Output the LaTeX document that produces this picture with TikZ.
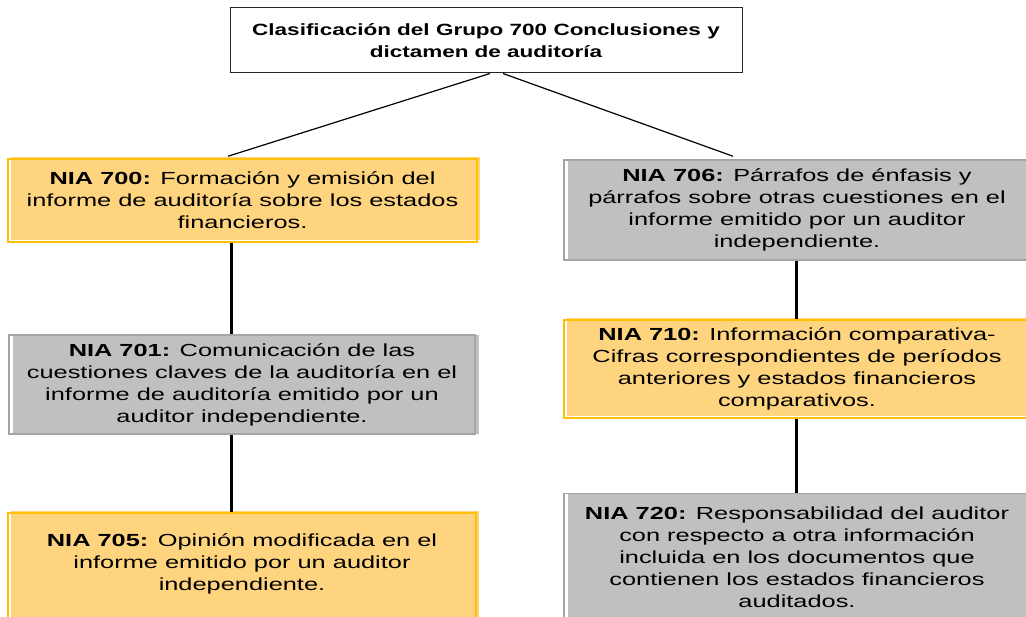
\documentclass[tikz,border=0pt]{standalone}
\usepackage{fontspec}
\setmainfont{Liberation Sans}[FakeStretch=1.45]
\newfontfamily\titlefont{Liberation Sans}[FakeStretch=1.38]
\usetikzlibrary{calc,shadows}
\definecolor{ofill}{HTML}{FED47F}
\definecolor{oline}{HTML}{FFC000}
\definecolor{gfill}{HTML}{C0C0C0}
\definecolor{gline}{HTML}{A5A5A5}
\definecolor{tline}{HTML}{262626}
\begin{document}
\begin{tikzpicture}[x=1pt,y=-1pt,
  basebox/.style={rectangle, align=center, inner sep=0pt, text=black,
    font=\fontsize{17.5}{22}\selectfont},
  obox/.style={basebox, draw=oline, line width=1.5pt,
    general shadow={fill=ofill, shadow xshift=3pt, shadow yshift=2pt}},
  gbox/.style={basebox, draw=gline, line width=1.5pt,
    general shadow={fill=gfill, shadow xshift=4pt, shadow yshift=0pt}},
  titlebox/.style={rectangle, align=center, inner sep=0pt, draw=tline, line width=1pt, fill=white,
    font=\titlefont\bfseries\fontsize{16.3}{21.5}\selectfont},
  diag/.style={draw=black, line width=1.2pt},
  vline/.style={draw=black, line width=3pt}]
\clip (0,0) rectangle (1026,617);
\fill[white] (0,0) rectangle (1026,617);

\node[titlebox, minimum width=512, minimum height=65] (top) at (486,40.5)
  {Clasificación del Grupo 700 Conclusiones y\\dictamen de auditoría};

\node[obox, minimum width=469, minimum height=83] (n700) at (242.5,200.5)
  {\textbf{NIA 700:} Formación y emisión del\\informe de auditoría sobre los estados\\financieros.};
\node[gbox, minimum width=466, minimum height=99] (n701) at (242,384.5)
  {\textbf{NIA 701:} Comunicación de las\\cuestiones claves de la auditoría en el\\informe de auditoría emitido por un\\auditor independiente.};
\node[obox, minimum width=468, anchor=north, inner ysep=21pt, text depth=110pt] (n705) at (242,512)
  {\textbf{NIA 705:} Opinión modificada en el\\informe emitido por un auditor\\independiente.};

\node[gbox, minimum width=466, minimum height=100] (n706) at (797,210)
  {\textbf{NIA 706:} Párrafos de énfasis y\\párrafos sobre otras cuestiones en el\\informe emitido por un auditor\\independiente.};
\node[obox, minimum width=466, minimum height=98] (n710) at (797,369)
  {\textbf{NIA 710:} Información comparativa-\\Cifras correspondientes de períodos\\anteriores y estados financieros\\comparativos.};
\node[gbox, minimum width=466, anchor=north, inner ysep=13pt, text depth=80pt] (n720) at (797,493)
  {\textbf{NIA 720:} Responsabilidad del auditor\\con respecto a otra información\\incluida en los documentos que\\contienen los estados financieros\\auditados.};

\coordinate (cl) at (231,0);
\coordinate (cr) at (796,0);

\draw[diag] ($(top.south)+(4,0)$) -- ($(n700.north)+(-14.5,-2)$);
\draw[diag] ($(top.south)+(17,0)$) -- ($(n706.north)+(-64,-3)$);

\draw[vline] (n700.south -| cl) -- (n701.north -| cl);
\draw[vline] (n701.south -| cl) -- (n705.north -| cl);
\draw[vline] (n706.south -| cr) -- (n710.north -| cr);
\draw[vline] (n710.south -| cr) -- (n720.north -| cr);
\end{tikzpicture}
\end{document}
